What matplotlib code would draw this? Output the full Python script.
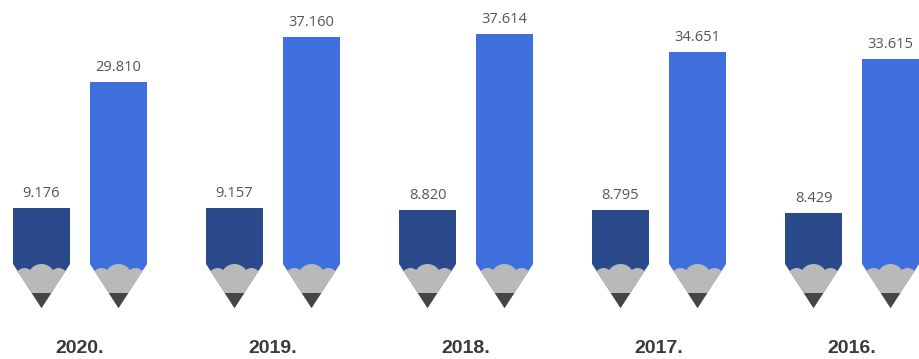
import matplotlib
matplotlib.use("Agg")
import matplotlib.pyplot as plt
from matplotlib.patches import Polygon, Ellipse, Rectangle

years = ["2020.", "2019.", "2018.", "2017.", "2016."]
dark_values = [9176, 9157, 8820, 8795, 8429]
blue_values = [29810, 37160, 37614, 34651, 33615]

DARK = "#2a4a8c"
BLUE = "#3e6fdc"
WOOD = "#b9b9b9"
LEAD = "#454545"

fig = plt.figure(figsize=(9.2, 3.59), dpi=100)
ax = fig.add_axes([0, 0, 1, 1])
ax.set_xlim(-0.4145, 4.352)
ax.set_ylim(-15560, 43240)
ax.axis("off")

width = 0.295
offset = 0.1995
x = list(range(len(years)))

# size of one pixel in data units, used for the pencil tips
px_x = 1 / 193.0
px_y = 163.8
tip_len = 44 * px_y


def pencil_tip(cx, color):
    hw = width / 2
    tri = Polygon([(cx - hw, 0), (cx + hw, 0), (cx, -tip_len)],
                  closed=True, facecolor=color, edgecolor="none", zorder=2)
    ax.add_patch(tri)
    # sharpened wood with a scalloped edge
    wood = [Rectangle((cx - hw, -tip_len), width, tip_len - 8 * px_y),
            Ellipse((cx, -12 * px_y), 26 * px_x, 24 * px_y),
            Ellipse((cx - 17 * px_x, -13 * px_y), 18 * px_x, 18 * px_y),
            Ellipse((cx + 17 * px_x, -13 * px_y), 18 * px_x, 18 * px_y)]
    for p in wood:
        p.set_facecolor(WOOD)
        p.set_edgecolor("none")
        p.set_zorder(3)
        ax.add_patch(p)
        p.set_clip_path(tri)
    # graphite point
    lead_w = hw * 15 / 44
    ax.add_patch(Polygon([(cx - lead_w, -29 * px_y), (cx + lead_w, -29 * px_y),
                          (cx, -tip_len)], closed=True, facecolor=LEAD,
                         edgecolor="none", zorder=4))


dark_x = [i - offset for i in x]
blue_x = [i + offset for i in x]
dark_bars = ax.bar(dark_x, dark_values, width=width, color=DARK, zorder=2)
blue_bars = ax.bar(blue_x, blue_values, width=width, color=BLUE, zorder=2)

for bars, color in [(dark_bars, DARK), (blue_bars, BLUE)]:
    for b in bars:
        cx = b.get_x() + b.get_width() / 2
        pencil_tip(cx, color)
        label = f"{int(b.get_height()):,}".replace(",", ".")
        ax.annotate(label, (cx, b.get_height()), xytext=(0, 5),
                    textcoords="offset points", ha="center", va="bottom",
                    fontsize=10.5, family="Open Sans", color="#555555")

for i, yr in enumerate(years):
    ax.text(i, 0.028, yr, transform=ax.get_xaxis_transform(),
            ha="center", va="center", fontsize=14, fontweight="bold",
            family="Liberation Sans", color="#3a3a3a")

fig.savefig("out.png", dpi=100, facecolor="white")
